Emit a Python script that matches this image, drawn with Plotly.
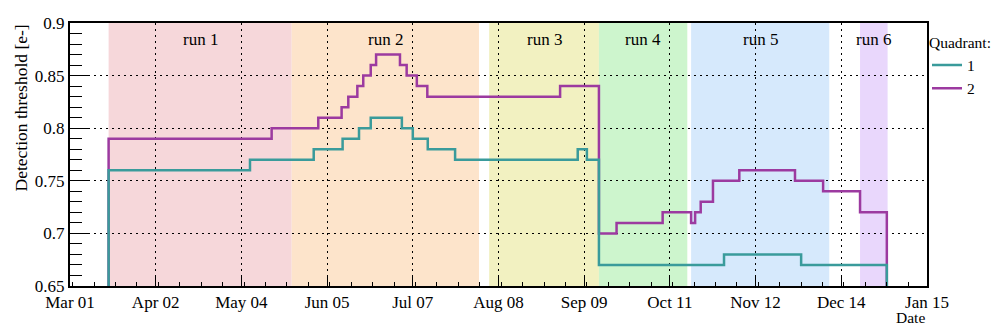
import pandas as pd
import plotly.graph_objects as go

# step edges (dates) and the threshold held between consecutive edges
q1_edges = ["2022-03-15 10:00", "2022-05-07 05:00", "2022-05-31 00:00", "2022-06-10 19:00",
            "2022-06-16 22:00", "2022-06-21 07:00", "2022-07-02 22:00", "2022-07-07 00:00",
            "2022-07-12 14:00", "2022-07-22 19:00", "2022-09-06 14:00", "2022-09-10 00:00",
            "2022-09-14 12:00", "2022-10-31 05:00", "2022-11-29 00:00", "2022-12-31 00:00"]
q1_values = [0.76, 0.77, 0.78, 0.79, 0.80, 0.81, 0.80, 0.79, 0.78, 0.77, 0.78, 0.77,
             0.67, 0.68, 0.67]

q2_edges = ["2022-03-15 10:00", "2022-05-15 07:00", "2022-06-01 17:00", "2022-06-10 10:00",
            "2022-06-12 22:00", "2022-06-16 07:00", "2022-06-18 12:00", "2022-06-21 07:00",
            "2022-06-23 07:00", "2022-07-02 05:00", "2022-07-04 17:00", "2022-07-08 12:00",
            "2022-07-12 10:00", "2022-08-31 00:00", "2022-09-14 12:00", "2022-09-21 02:00",
            "2022-10-08 07:00", "2022-10-18 22:00", "2022-10-20 10:00", "2022-10-22 12:00",
            "2022-10-27 02:00", "2022-11-05 22:00", "2022-11-26 17:00", "2022-12-07 05:00",
            "2022-12-21 00:00", "2022-12-31 00:00"]
q2_values = [0.79, 0.80, 0.81, 0.82, 0.83, 0.84, 0.85, 0.86, 0.87, 0.86, 0.85, 0.84,
             0.83, 0.84, 0.70, 0.71, 0.72, 0.71, 0.72, 0.73, 0.75, 0.76, 0.75, 0.74, 0.72]

run_names = ["run 1", "run 2", "run 3", "run 4", "run 5", "run 6"]
run_starts = ["2022-03-15 10:00", "2022-05-22 19:00", "2022-08-04 12:00",
              "2022-09-14 12:00", "2022-10-18 22:00", "2022-12-21 00:00"]
run_ends = ["2022-05-22 19:00", "2022-07-31 17:00", "2022-09-14 12:00",
            "2022-10-17 12:00", "2022-12-09 12:00", "2022-12-31 07:00"]
run_colors = ["#f6d7da", "#fde4cb", "#f2f1c1", "#cdf5cd", "#d6e9fc", "#e9d7fc"]

Y_MIN, Y_MAX = 0.65, 0.9
DAY_MS = 86400000
FONT = "Liberation Serif"


def step_xy(edges, values):
    # closed histogram outline: rise from the floor, hold each value, drop back
    return [edges[0]] + edges, [Y_MIN] + values + [Y_MIN]


fig = go.Figure()

for name, start, end, color in zip(run_names, run_starts, run_ends, run_colors):
    fig.add_vrect(x0=start, x1=end, fillcolor=color, opacity=1, line_width=0, layer="below")
    mid = pd.Timestamp(start) + (pd.Timestamp(end) - pd.Timestamp(start)) / 2
    fig.add_annotation(x=mid, y=0.8845, text=name, showarrow=False,
                       font=dict(family=FONT, size=17, color="black"))

for label, edges, values, color in [("2", q2_edges, q2_values, "#9c3aa0"),
                                    ("1", q1_edges, q1_values, "#3a9b9b")]:
    x, y = step_xy(edges, values)
    fig.add_trace(go.Scatter(x=x, y=y, mode="lines", name=label,
                             line=dict(shape="hv", color=color, width=2.5)))

fig.add_annotation(text="Date", xref="paper", yref="paper", x=1, y=0, yshift=-31,
                   xanchor="right", yanchor="middle", showarrow=False,
                   font=dict(family=FONT, size=15.5, color="black"))
fig.add_annotation(text="Detection threshold [e-]", xref="paper", yref="paper",
                   x=0, y=1, xshift=-50, textangle=-90, xanchor="center", yanchor="top",
                   showarrow=False, font=dict(family=FONT, size=17.5, color="black"))

grid = dict(showgrid=True, gridcolor="black", griddash="2px,4px", gridwidth=1.3,
            showline=True, linecolor="black", linewidth=2, mirror=True, zeroline=False,
            tickcolor="black", tickwidth=1.2,
            tickfont=dict(family=FONT, size=17, color="black"))

fig.update_xaxes(
    type="date", range=["2022-03-01", "2023-01-15"],
    tick0="2022-03-01", dtick=32 * DAY_MS, tickformat="%b %d",
    ticks="inside", ticklen=9,
    minor=dict(dtick=8 * DAY_MS, ticks="inside", ticklen=4, tickwidth=1.2,
               tickcolor="black", showgrid=False),
    **grid,
)
fig.update_yaxes(
    range=[Y_MIN, Y_MAX], dtick=0.05, tick0=0.65,
    ticks="inside", ticklen=20,
    minor=dict(dtick=0.01, ticks="inside", ticklen=12, tickwidth=1.2,
               tickcolor="black", showgrid=False),
    **grid,
)

fig.update_layout(
    width=997, height=325,
    margin=dict(l=70, r=70, t=23, b=39, autoexpand=False),
    plot_bgcolor="white", paper_bgcolor="white",
    legend=dict(title=dict(text="Quadrant:", font=dict(family=FONT, size=15.5)),
                font=dict(family=FONT, size=15.5, color="black"),
                x=1.0, xanchor="left", y=0.98, yanchor="top",
                traceorder="reversed", bgcolor="rgba(0,0,0,0)",
                itemwidth=30, tracegroupgap=0),
    showlegend=True,
)

fig.write_html("out.html", config={"displayModeBar": False},
               post_script="document.body.style.margin='0';")
